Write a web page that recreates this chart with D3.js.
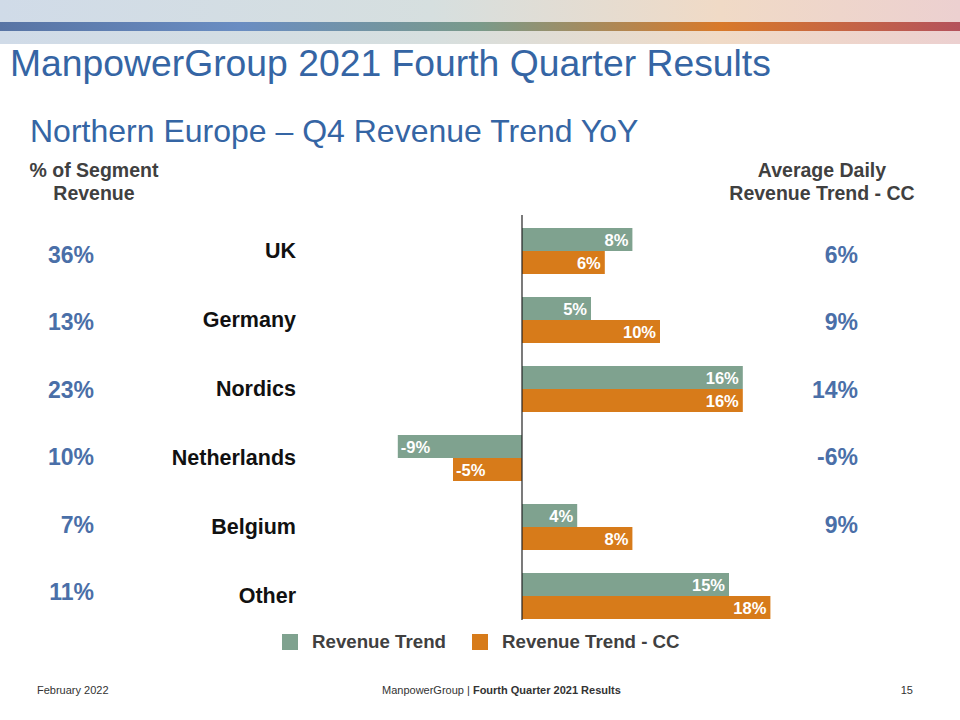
<!DOCTYPE html>
<html lang="en">
<head>
<meta charset="utf-8">
<title>Northern Europe - Q4 Revenue Trend YoY</title>
<script src="https://cdn.jsdelivr.net/npm/d3@7"></script>
<style>
  body { margin: 0; background: #fff; }
  svg { font-family: "Liberation Sans", Arial, sans-serif; display: block; }
</style>
</head>
<body>
<script>
// data
var regions = ["UK", "Germany", "Nordics", "Netherlands", "Belgium", "Other"];
var segmentShare = ["36%", "13%", "23%", "10%", "7%", "11%"];
var revenueTrend = [8, 5, 16, -9, 4, 15];
var revenueTrendCC = [6, 10, 16, -5, 8, 18];
var dailyTrendCC = ["6%", "9%", "14%", "-6%", "9%", ""];
var seriesNames = ["Revenue Trend", "Revenue Trend - CC"];
var seriesColors = ["#7fa28f", "#d77b1a"];

var w = 960, h = 720;
var blue = "#3565a4";
var grey = "#404040";

var svg = d3.select("body").append("svg")
    .attr("width", w)
    .attr("height", h);

// top decorative band
var defs = svg.append("defs");
var light = defs.append("linearGradient").attr("id", "light");
[["0%", "#d0dbe8"], ["45%", "#d6dfdf"], ["75%", "#f0dac6"], ["100%", "#ecd0d0"]]
  .forEach(function(s) { light.append("stop").attr("offset", s[0]).attr("stop-color", s[1]); });
var stripe = defs.append("linearGradient").attr("id", "stripe");
[["0%", "#5874a4"], ["25%", "#6a8dc2"], ["50%", "#7a9a8a"], ["75%", "#d8792a"], ["100%", "#b4525c"]]
  .forEach(function(s) { stripe.append("stop").attr("offset", s[0]).attr("stop-color", s[1]); });

svg.append("rect").attr("x", 0).attr("y", 0).attr("width", w).attr("height", 44).attr("fill", "url(#light)");
svg.append("rect").attr("x", 0).attr("y", 22).attr("width", w).attr("height", 9).attr("fill", "url(#stripe)");

// titles
svg.append("text").attr("x", 10).attr("y", 76)
   .attr("font-size", 37.3).attr("fill", blue)
   .text("ManpowerGroup 2021 Fourth Quarter Results");
svg.append("text").attr("x", 30).attr("y", 142)
   .attr("font-size", 32).attr("fill", blue)
   .text("Northern Europe \u2013 Q4 Revenue Trend YoY");

// column headers
function header(x, lines) {
  var t = svg.append("text").attr("x", x).attr("y", 177)
    .attr("text-anchor", "middle").attr("font-size", 19.5)
    .attr("font-weight", "bold").attr("fill", grey);
  lines.forEach(function(l, i) {
    t.append("tspan").attr("x", x).attr("dy", i ? 23 : 0).text(l);
  });
}
header(94, ["% of Segment", "Revenue"]);
header(822, ["Average Daily", "Revenue Trend - CC"]);

// scales
var x = d3.scaleLinear().domain([0, 1]).range([522, 535.8]);
var y = d3.scaleBand().domain(regions).range([228, 619]).paddingInner(1 / 3).paddingOuter(0);
var sub = d3.scaleBand().domain([0, 1]).range([0, y.bandwidth()]);
// the side columns sit on a slightly tighter grid than the bars
var ySide = d3.scalePoint().domain(regions).range([255, 592]);

var rows = svg.append("g").selectAll("g")
  .data(regions)
  .enter().append("g")
  .attr("transform", function(d) { return "translate(0," + y(d) + ")"; });

var bars = rows.selectAll("g.bar")
  .data(function(d, i) { return [revenueTrend[i], revenueTrendCC[i]]; })
  .enter().append("g").attr("class", "bar");

bars.append("rect")
  .attr("x", function(d) { return x(Math.min(0, d)); })
  .attr("y", function(d, j) { return sub(j); })
  .attr("width", function(d) { return Math.abs(x(d) - x(0)); })
  .attr("height", sub.bandwidth())
  .attr("fill", function(d, j) { return seriesColors[j]; });

bars.append("text")
  .attr("x", function(d) { return d < 0 ? x(d) + 3 : x(d) - 4; })
  .attr("y", function(d, j) { return sub(j) + sub.bandwidth() / 2 + 6; })
  .attr("text-anchor", function(d) { return d < 0 ? "start" : "end"; })
  .attr("font-size", 16.5).attr("font-weight", "bold").attr("fill", "#fff")
  .text(function(d) { return d + "%"; });

// category labels
var mid = y.bandwidth() / 2;
rows.append("text")
  .attr("x", 296).attr("y", mid + 7)
  .attr("text-anchor", "end").attr("font-size", 21.5).attr("font-weight", "bold")
  .attr("fill", "#111")
  .text(function(d) { return d; });

// side columns
var side = svg.append("g");
side.selectAll("text.share")
  .data(regions)
  .enter().append("text").attr("class", "share")
  .attr("x", 94).attr("y", function(d) { return ySide(d) + 8; })
  .attr("text-anchor", "end").attr("font-size", 23).attr("font-weight", "bold")
  .attr("fill", "#4a6fa8")
  .text(function(d, i) { return segmentShare[i]; });
side.selectAll("text.daily")
  .data(regions)
  .enter().append("text").attr("class", "daily")
  .attr("x", 858).attr("y", function(d) { return ySide(d) + 8; })
  .attr("text-anchor", "end").attr("font-size", 23).attr("font-weight", "bold")
  .attr("fill", "#4a6fa8")
  .text(function(d, i) { return dailyTrendCC[i]; });

// zero axis
svg.append("line")
  .attr("x1", x(0)).attr("x2", x(0))
  .attr("y1", 215).attr("y2", 620)
  .attr("stroke", "#222").attr("stroke-width", 1.2);

// legend
var legendX = [282, 472];
var legend = svg.append("g").selectAll("g")
  .data(seriesNames)
  .enter().append("g")
  .attr("transform", function(d, i) { return "translate(" + legendX[i] + ",634)"; });
legend.append("rect").attr("width", 16).attr("height", 16)
  .attr("fill", function(d, i) { return seriesColors[i]; });
legend.append("text").attr("x", 30).attr("y", 14)
  .attr("font-size", 18.7).attr("font-weight", "bold").attr("fill", grey)
  .text(function(d) { return d; });

// footer
svg.append("text").attr("x", 37).attr("y", 694).attr("font-size", 11).attr("fill", "#333")
   .text("February 2022");
var f = svg.append("text").attr("x", 382).attr("y", 694).attr("font-size", 11).attr("fill", "#333");
f.append("tspan").text("ManpowerGroup  | ");
f.append("tspan").attr("font-weight", "bold").text("Fourth Quarter 2021 Results");
svg.append("text").attr("x", 913).attr("y", 694).attr("text-anchor", "end")
   .attr("font-size", 11).attr("fill", "#333").text("15");
</script>
</body>
</html>
